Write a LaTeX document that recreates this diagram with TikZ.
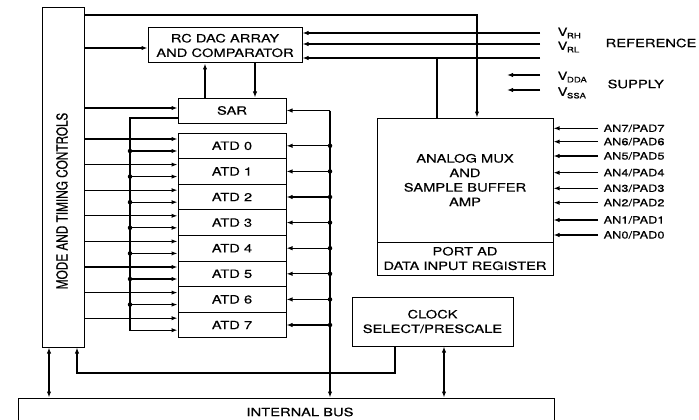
\documentclass[tikz,border=0pt]{standalone}
\usepackage{fontspec}
\setmainfont{TeX Gyre Heros}[FakeStretch=1.28, FakeBold=0.4]
\newfontfamily\upfont{TeX Gyre Heros}[FakeBold=0.4]
\usetikzlibrary{arrows.meta,calc}

\tikzset{
    box/.style={draw, line width=1pt, inner sep=0pt, align=center},
    dot/.style={circle, fill, inner sep=0pt, minimum size=4.5pt},
    pinlabel/.style={anchor=west, inner sep=0pt, font=\fontsize{10}{12}\selectfont}
}
\newcommand{\vsub}[1]{V\kern-0.5pt\raisebox{-2.5pt}{\fontsize{7.5}{8}\selectfont #1}}

\begin{document}
\begin{tikzpicture}[x=1pt, y=-1pt, >={Latex[length=6pt,width=4.4pt]}, line width=1.3pt,
    font=\fontsize{11.5}{14.5}\selectfont]

    % 1. Frame of the picture (the bus box runs past the bottom edge)
    \path[use as bounding box] (0,0) rectangle (699,420);
    \clip (0,0) rectangle (699,420);

    % 2. Blocks
    \node[box, minimum width=42pt, minimum height=339pt] (mode) at (63,177.5) {};
    \node[rotate=90, inner sep=0pt] (modetext) at (62,201)
        {\scalebox{1}[1.28]{\upfont\fontsize{11.8}{14}\selectfont MODE AND TIMING CONTROLS}};
    \node[box, minimum width=154pt, minimum height=35pt] (dac) at (225,45.5) {RC DAC ARRAY\\AND COMPARATOR};
    \node[box, minimum width=108pt, minimum height=25pt] (sar) at (232,110.5) {SAR};
    \foreach \i in {0,...,7}
        \node[box, minimum width=108pt, minimum height=25.6pt] (atd\i) at (232,145.8+25.6*\i) {ATD \i};
    \node[box, minimum width=176pt, minimum height=124pt] (mux) at (465,180)
        {ANALOG MUX\\AND\\SAMPLE BUFFER\\AMP};
    \node[box, minimum width=176pt, minimum height=33pt] (port) at (465,258.5)
        {PORT AD\\DATA INPUT REGISTER};
    \node[box, minimum width=161pt, minimum height=49pt] (clock) at (432.5,321.5)
        {CLOCK\\SELECT/PRESCALE};
    \node[box, minimum width=536pt, minimum height=40pt] (bus) at (286,418) {};
    \node (bustext) at (300,412) {INTERNAL BUS};

    % 3. Helper points for the rails and taps
    \coordinate (railL) at (130,0);
    \coordinate (railR) at (330,0);
    \coordinate (ctl) at (477,15);
    \coordinate (tap) at (437,58);
    \coordinate (dacin) at ($(dac.west)+(0,2.5)$);
    \coordinate (sarin) at ($(sar.west)+(0,-2.5)$);
    \coordinate (sarout) at ($(sar.west)+(0,7.5)$);
    \coordinate (up) at (205,0);
    \coordinate (down) at (255,0);
    \coordinate (mb) at (49,0);
    \coordinate (mclk) at (77,373);
    \coordinate (clkout) at (395,373);
    \coordinate (cb) at (444,0);

    % 4. Controls from the mode block
    \draw[->] (mode.east |- ctl) -- (ctl) -- (ctl |- mux.north);
    \draw[->] (mode.east |- dacin) -- (dacin);
    \draw[->] (mode.east |- sarin) -- (sarin);
    \draw[->] (sar.north -| up) -- (dac.south -| up);
    \draw[->] (dac.south -| down) -- (sar.north -| down);

    % SAR output rail on the left, bus rail on the right
    \foreach \i in {0,...,7} {
        \coordinate (hi\i) at ($(atd\i.north west)+(0,6.5)$);
        \coordinate (lo\i) at ($(atd\i.north west)+(0,18.5)$);
        \draw[->] (mode.east |- hi\i) -- (hi\i);
        \draw[->] (railR |- atd\i.east) -- (atd\i.east);
        \node[dot] (rd\i) at (railR |- atd\i.east) {};
    }
    \draw[->] (sarout) -| (railL |- lo7) -- (lo7);
    \foreach \i in {0,...,6} {
        \draw[->] (railL |- lo\i) -- (lo\i);
        \node[dot] (ld\i) at (railL |- lo\i) {};
    }
    \draw[->] (railR |- sar.east) -- (sar.east);
    \draw[->] (railR |- sar.east) -- (railR |- bus.north);

    % 5. Reference and supply pins
    \foreach \y/\n in {33/rh, 44/rl, 58/rx} {
        \coordinate (\n) at (540,\y);
        \draw[->] (\n) -- (dac.east |- \n);
    }
    \draw (tap) -- (tap |- mux.north);
    \node[anchor=west, inner sep=0pt] (vrh) at (557,33) {\vsub{RH}};
    \node[anchor=west, inner sep=0pt] (vrl) at (557,47) {\vsub{RL}};
    \node[anchor=west, inner sep=0pt] (reftext) at (605,43) {REFERENCE};
    \coordinate (vdda) at (540,75);
    \coordinate (vssa) at (540,90);
    \draw[->] (vdda) -- ++(-33,0);
    \draw[->] (vssa) -- ++(-33,0);
    \node[anchor=west, inner sep=0pt] (vddatext) at (557,77) {\vsub{DDA}};
    \node[anchor=west, inner sep=0pt] (vssatext) at (557,93) {\vsub{SSA}};
    \node[anchor=west, inner sep=0pt] (supplytext) at (607,84) {SUPPLY};

    % 6. Analog inputs
    \foreach \i/\y in {7/128.3, 6/141.7, 5/156, 4/172.7, 3/188.3, 2/202.7, 1/220, 0/235} {
        \node[pinlabel] (an\i) at (603,\y) {AN\i/PAD\i};
        \draw[->] ([xshift=-5pt]an\i.west) -- (an\i.west -| mux.east);
    }

    % 7. Clock and bus links
    \draw[->] (clock.south -| clkout) -- (clkout) -- (mclk) -- (mode.south -| mclk);
    \draw[<->] (clock.south -| cb) -- (bus.north -| cb);
    \draw[<->] (mode.south -| mb) -- (bus.north -| mb);

\end{tikzpicture}
\end{document}
